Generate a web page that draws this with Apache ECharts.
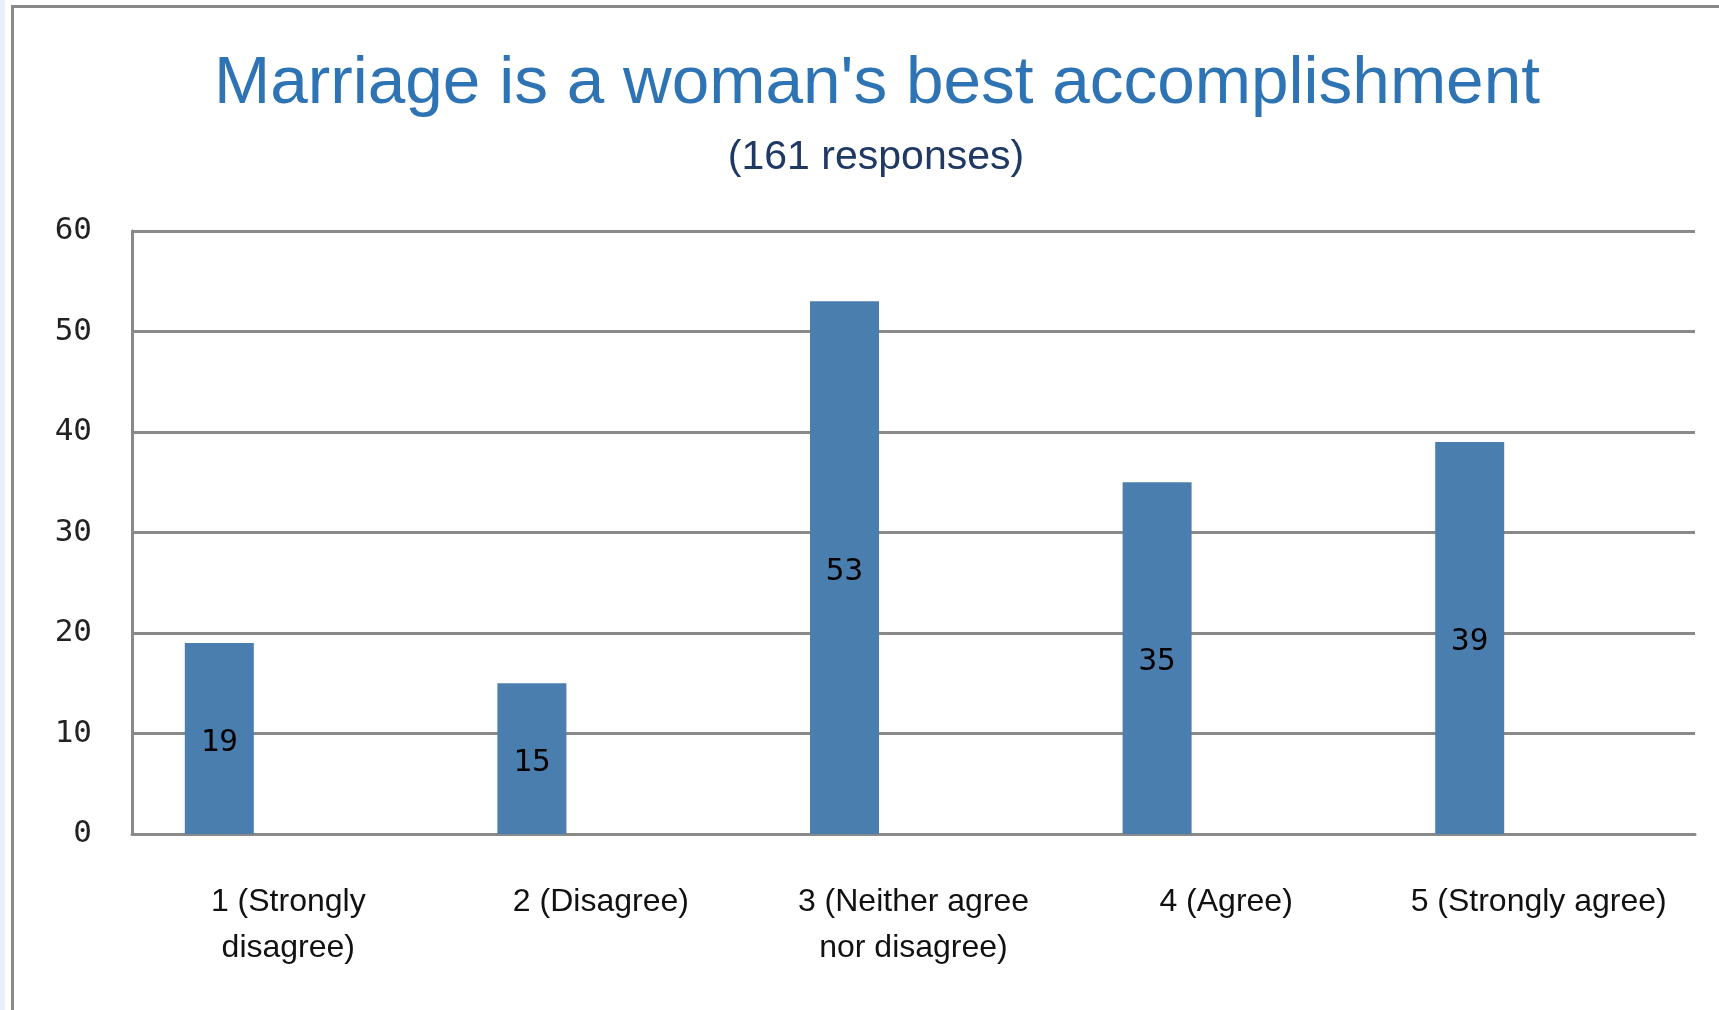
<!DOCTYPE html>
<html>
<head>
<meta charset="utf-8">
<script src="https://cdn.jsdelivr.net/npm/echarts@6/dist/echarts.min.js"></script>
<style>
html,body{margin:0;padding:0;background:#fff;}
#chart{width:1719px;height:1010px;}
</style>
</head>
<body>
<div id="chart"></div>
<script>
const titleText = "Marriage is a woman's best accomplishment";
const subtitleText = "(161 responses)";
const categories = ["1 (Strongly\ndisagree)", "2 (Disagree)", "3 (Neither agree\nnor disagree)", "4 (Agree)", "5 (Strongly agree)"];
const responses = [19, 15, 53, 35, 39];
const yTicks = [0, 10, 20, 30, 40, 50, 60];

const chart = echarts.init(document.getElementById('chart'), null, {renderer: 'canvas'});
const gridColor = '#898989';
chart.setOption({
  animation: false,
  backgroundColor: '#ffffff',
  graphic: [
    {type: 'rect', shape: {x: 0, y: 0, width: 5, height: 1010}, style: {fill: '#e9f0f8'}, silent: true, z: 0},
    {type: 'rect', shape: {x: 12.5, y: 6.5, width: 1800, height: 1100}, style: {fill: 'none', stroke: gridColor, lineWidth: 3}, silent: true, z: 0},
    {type: 'text', x: 877, y: 84, style: {text: titleText, fill: '#2E74B5', font: '67.5px "Liberation Sans"', textAlign: 'center', textVerticalAlign: 'middle'}},
    {type: 'text', x: 876, y: 158, style: {text: subtitleText, fill: '#1F3864', font: '41px "Liberation Sans"', textAlign: 'center', textVerticalAlign: 'middle'}}
  ],
  grid: {left: 132, right: 24, top: 231, bottom: 176, containLabel: false},
  xAxis: {
    type: 'category',
    data: categories,
    axisLine: {show: true, lineStyle: {color: gridColor, width: 3}},
    axisTick: {show: false},
    axisLabel: {
      interval: 0,
      margin: 45,
      color: '#111',
      fontFamily: 'Liberation Sans',
      fontSize: 32,
      lineHeight: 46,
      verticalAlign: 'top'
    },
    splitLine: {show: false}
  },
  yAxis: {
    type: 'value',
    min: yTicks[0],
    max: yTicks[yTicks.length - 1],
    interval: 10,
    axisLine: {show: true, lineStyle: {color: gridColor, width: 3}},
    axisTick: {show: false},
    axisLabel: {
      margin: 40,
      color: '#222',
      fontFamily: 'DejaVu Sans Mono',
      fontSize: 31
    },
    splitLine: {show: true, lineStyle: {color: gridColor, width: 3}}
  },
  series: [
    {
      type: 'bar',
      data: responses,
      barWidth: 69,
      barGap: '0%',
      itemStyle: {color: '#4A7EAF'},
      label: {show: true, position: 'inside', offset: [0, 4], color: '#000', fontFamily: 'DejaVu Sans Mono', fontSize: 31}
    },
    {type: 'bar', data: [], barWidth: 69, barGap: '0%'},
    {type: 'bar', data: [], barWidth: 69, barGap: '0%'}
  ]
});
</script>
</body>
</html>
